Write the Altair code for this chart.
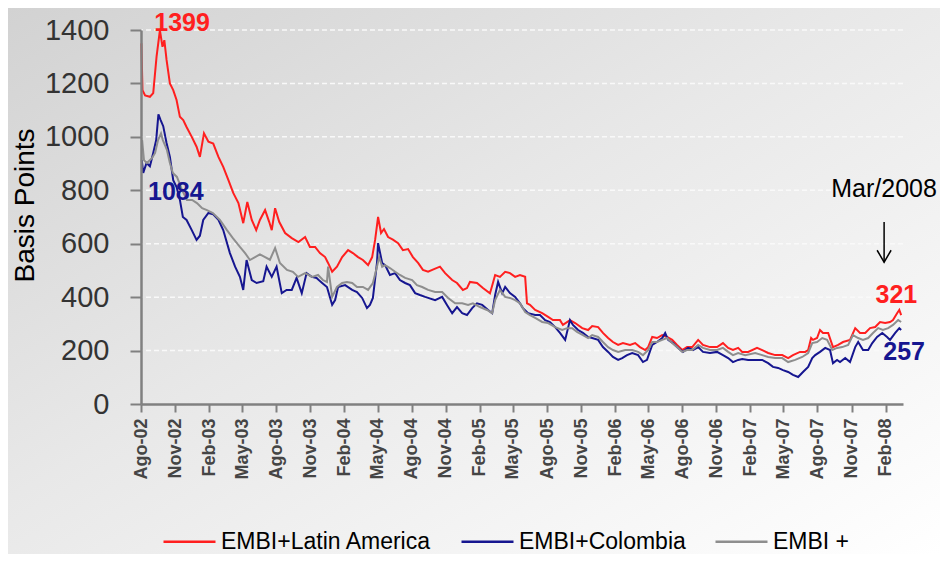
import altair as alt
import pandas as pd
from datetime import date, timedelta

# ---------------- data (day offsets from 2002-08-01, basis points) ----------------
latam_day = [1,4,11,24,33,42,51,58,63,69,78,87,96,105,114,123,137,150,159,170,
             182,195,209,222,236,249,263,276,287,299,311,321,335,346,353,362,373,389,407,425,
             443,456,470,483,497,505,516,529,543,559,572,586,599,613,624,632,640,648,656,667,
             680,694,707,721,734,748,761,775,791,807,821,840,853,869,880,888,907,923,942,950,
             956,969,983,996,1010,1023,1037,1042,1050,1064,1083,1099,1112,1131,1139,1158,1172,1191,1207,1218,
             1234,1247,1261,1274,1288,1301,1320,1334,1347,1361,1369,1380,1393,1407,1420,1434,1447,1461,1474,1488,
             1504,1517,1536,1555,1571,1585,1598,1612,1623,1639,1663,1677,1693,1712,1731,1747,1760,1779,1793,1801,
             1809,1814,1825,1833,1841,1855,1868,1882,1895,1914,1928,1941,1955,1968,1982,1995,2009,2022,2030,2041,
             2047,2052]
latam_val = [1350,1175,1155,1150,1164,1300,1399,1337,1362,1288,1200,1175,1138,1075,1063,1037,1000,963,925,1013,
             982,975,925,888,838,790,752,677,756,689,651,689,726,682,651,733,682,640,621,606,
             625,588,588,565,550,528,495,514,550,576,565,550,539,520,550,614,700,640,655,625,
             615,602,576,580,550,528,502,495,505,514,490,464,453,427,434,457,453,434,414,453,
             483,476,495,490,476,483,476,377,371,352,340,326,314,314,296,314,303,284,277,292,
             288,266,247,232,221,228,221,228,213,202,213,251,247,258,251,240,221,202,213,213,
             240,221,213,213,228,210,202,210,195,195,210,202,191,183,183,172,183,195,195,202,
             247,240,247,277,266,266,213,221,232,240,284,266,266,284,288,307,303,307,314,340,
             352,333]

col_day = [2,6,15,24,33,41,47,53,60,69,78,87,96,105,113,123,137,150,159,168,
           182,195,209,222,240,254,267,276,285,299,312,330,339,353,366,380,393,407,420,434,
           447,461,474,483,489,502,516,524,532,551,570,583,597,610,618,626,637,640,651,659,
           672,686,699,713,726,740,753,767,794,813,826,840,853,867,880,894,907,921,937,948,
           956,964,975,983,996,1010,1023,1031,1045,1064,1077,1091,1104,1118,1131,1145,1158,1166,1180,1193,
           1207,1218,1234,1247,1261,1274,1288,1299,1312,1326,1342,1355,1366,1380,1393,1407,1415,1423,1436,1450,
           1463,1477,1490,1504,1517,1536,1555,1571,1585,1598,1612,1623,1639,1658,1677,1693,1706,1720,1733,1747,
           1760,1774,1787,1801,1812,1820,1833,1847,1860,1868,1879,1887,1901,1914,1928,1936,1949,1963,1974,1987,
           2001,2014,2022,2036,2047,2052]
col_val = [913,865,902,890,940,988,1084,1063,1040,977,925,838,812,764,700,689,651,614,630,689,
           715,710,689,651,565,514,476,427,539,464,453,460,514,476,514,415,427,427,472,415,
           490,476,472,460,453,438,371,389,438,445,427,419,397,359,371,397,528,602,528,520,
           483,490,464,453,445,415,408,401,389,401,371,340,363,340,333,359,377,371,352,340,
           408,457,415,438,415,401,377,359,340,333,333,314,307,288,266,240,314,296,277,266,
           251,247,240,213,195,176,165,172,183,191,183,157,165,221,232,247,266,240,228,210,
           195,210,202,213,195,191,195,183,172,157,165,168,165,165,165,153,139,135,127,120,
           109,101,120,139,172,183,195,210,202,153,165,157,172,157,213,232,202,202,228,251,
           266,251,240,266,284,277]

emb_day = [3,8,16,30,38,46,54,59,70,78,86,97,111,124,138,151,165,178,194,213,
           232,248,267,281,294,308,321,335,348,362,375,394,410,424,443,462,478,491,502,505,
           516,529,543,556,570,583,599,613,626,637,643,651,659,672,686,699,713,732,745,759,
           775,794,813,829,848,867,883,896,915,934,948,956,969,983,996,1010,1023,1037,1050,1064,
           1083,1099,1118,1137,1150,1164,1177,1193,1207,1218,1234,1247,1261,1274,1288,1307,1326,1342,1355,1369,
           1380,1393,1407,1420,1434,1447,1461,1474,1488,1504,1517,1536,1555,1571,1585,1598,1612,1631,1658,1677,
           1693,1712,1731,1747,1766,1785,1801,1812,1825,1839,1852,1866,1879,1893,1909,1922,1936,1949,1963,1976,
           1990,2003,2017,2030,2044,2052]
emb_val = [988,913,902,921,940,988,1013,988,951,902,865,850,801,764,764,752,733,726,715,689,
           651,621,588,565,539,550,560,550,540,584,528,502,495,476,490,476,483,464,457,514,
           401,438,453,457,453,438,438,427,453,514,550,514,520,509,495,483,472,464,445,438,
           427,419,419,397,377,377,371,377,363,352,340,389,427,401,397,389,377,344,333,322,
           307,303,288,277,284,284,270,258,247,258,251,232,213,202,195,202,202,195,183,202,
           232,232,240,247,228,213,195,202,202,221,210,202,202,210,195,183,191,183,191,183,
           176,172,172,157,165,176,191,228,232,247,240,202,210,213,221,258,247,240,247,266,
           284,277,284,296,314,307]

series_names = ["EMBI+Latin America", "EMBI+Colombia", "EMBI +"]
series_colors = ["#ff1f1f", "#161690", "#8e8e8e"]

grid_vals = [200, 400, 600, 800, 1000, 1200, 1400]
y_ticks = [0, 200, 400, 600, 800, 1000, 1200, 1400]

# annotations (day offset, value, text)
red_ann_day, red_ann_val, red_ann_txt = [111, 2039], [1427, 408], ["1399", "321"]
blue_ann_day, blue_ann_val, blue_ann_txt = [94, 2060], [793, 195], ["1084", "257"]
mar_day, mar_val, mar_txt = [2006], [805], ["Mar/2008"]
arrow_day, arrow_top, arrow_tip = [2006], [681], [531]

START = date(2002, 8, 1)


def to_dates(days):
    return [(START + timedelta(days=d)).isoformat() for d in days]


for d, v in [(latam_day, latam_val), (col_day, col_val), (emb_day, emb_val)]:
    assert len(d) == len(v), (len(d), len(v))

df = pd.concat([
    pd.DataFrame({"date": to_dates(d), "value": v, "series": n})
    for n, d, v in zip(series_names, [latam_day, col_day, emb_day], [latam_val, col_val, emb_val])
])

W, H = 762, 374
PAD = {"left": 133, "top": 22, "right": 37, "bottom": 150}

tick_dates = []
y_, m_ = 2002, 8
while (y_, m_) <= (2008, 2):
    tick_dates.append(alt.DateTime(year=y_, month=m_, date=1, utc=True))
    m_ += 3
    if m_ > 12:
        m_ -= 12
        y_ += 1

x_enc = alt.X(
    "date:T",
    scale=alt.Scale(type="utc", domain=[alt.DateTime(year=2002, month=8, date=1, utc=True),
                                        alt.DateTime(year=2008, month=3, date=19, utc=True)]),
    axis=alt.Axis(values=tick_dates,
                  labelExpr="replace(utcFormat(datum.value, '%b-%y'), 'Aug', 'Ago')",
                  labelAngle=270, labelFont="Liberation Sans", labelFontWeight="bold",
                  labelFontSize=18, labelColor="#454545", labelPadding=6,
                  labelOverlap=False, labelFlush=False,
                  tickSize=8, tickColor="#808080", tickWidth=2,
                  domainColor="#808080", domainWidth=2.5, grid=False, zindex=1),
    title=None,
)
y_enc = alt.Y(
    "value:Q",
    scale=alt.Scale(domain=[0, 1400], nice=False),
    axis=alt.Axis(values=y_ticks, format="d", grid=False, labelFont="Liberation Sans",
                  labelFontSize=29, labelColor="#333333", labelPadding=21, tickSize=11,
                  tickColor="#808080", tickWidth=2, domainColor="#808080", domainWidth=2.5,
                  zindex=1, title="Basis Points", titleFont="Liberation Sans", titleFontSize=28,
                  titleFontWeight="normal", titleColor="black", titleAngle=270,
                  titleX=-116, titleY=175, titleAlign="center", titleBaseline="middle"),
)

bg = alt.Chart(pd.DataFrame({"k": [0]})).mark_rect(
    fill=alt.LinearGradient(
        gradient="linear", x1=0, y1=0, x2=1, y2=1,
        stops=[alt.GradientStop(color="#d2d2d2", offset=0),
               alt.GradientStop(color="#e8e8e8", offset=0.45),
               alt.GradientStop(color="#ffffff", offset=1)]),
).encode(x=alt.value(-PAD["left"]), x2=alt.value(W + PAD["right"]),
         y=alt.value(-PAD["top"]), y2=alt.value(H + PAD["bottom"]))

grid = alt.Chart(pd.DataFrame({"value": grid_vals})).mark_rule(
    stroke="#f9f9f9", strokeDash=[5, 3], strokeWidth=1.5
).encode(y=y_enc)

color_enc = alt.Color(
    "series:N",
    scale=alt.Scale(domain=series_names, range=series_colors),
    legend=alt.Legend(orient="none", legendX=21, legendY=484, direction="horizontal",
                      title=None, symbolType="stroke", symbolSize=2704, symbolStrokeWidth=2.5,
                      labelFont="Liberation Sans", labelFontSize=23, labelColor="black",
                      labelOffset=4, columnPadding=24, labelLimit=400, padding=0),
)

lines = [
    alt.Chart(df).transform_filter(alt.datum.series == n).mark_line(strokeWidth=2).encode(
        x=x_enc, y=y_enc, color=color_enc)
    for n in series_names
]

red_txt = alt.Chart(pd.DataFrame({"date": to_dates(red_ann_day), "value": red_ann_val,
                                  "t": red_ann_txt})).mark_text(
    font="Liberation Sans", fontWeight="bold", fontSize=25, color="#ff1f1f",
    align="center", baseline="middle").encode(x=x_enc, y=y_enc, text="t:N")
blue_txt = alt.Chart(pd.DataFrame({"date": to_dates(blue_ann_day), "value": blue_ann_val,
                                   "t": blue_ann_txt})).mark_text(
    font="Liberation Sans", fontWeight="bold", fontSize=25, color="#161690",
    align="center", baseline="middle").encode(x=x_enc, y=y_enc, text="t:N")
mar = alt.Chart(pd.DataFrame({"date": to_dates(mar_day), "value": mar_val, "t": mar_txt})).mark_text(
    font="Liberation Sans", fontSize=25, color="black", align="center", baseline="middle"
).encode(x=x_enc, y=y_enc, text="t:N")

arrow_df = pd.DataFrame({"date": to_dates(arrow_day), "value": arrow_top, "tip": arrow_tip})
shaft = alt.Chart(arrow_df).mark_rule(color="black", strokeWidth=1.5).encode(
    x=x_enc, y=y_enc, y2="tip:Q")
head = alt.Chart(arrow_df).mark_point(
    shape="M-1,-1.7L0,0L1,-1.7", size=196, filled=False, stroke="black", strokeWidth=1.5, opacity=1
).encode(x=x_enc, y=alt.Y("tip:Q", scale=alt.Scale(domain=[0, 1400], nice=False)))

chart = alt.layer(bg, grid, *lines, red_txt, blue_txt, mar, shaft, head).properties(
    width=W, height=H, padding=PAD, autosize=alt.AutoSizeParams(type="none"),
    background="#e4e4e4",
).configure_view(strokeWidth=0)

chart.save("out.html", embed_options={"renderer": "svg", "actions": False})
